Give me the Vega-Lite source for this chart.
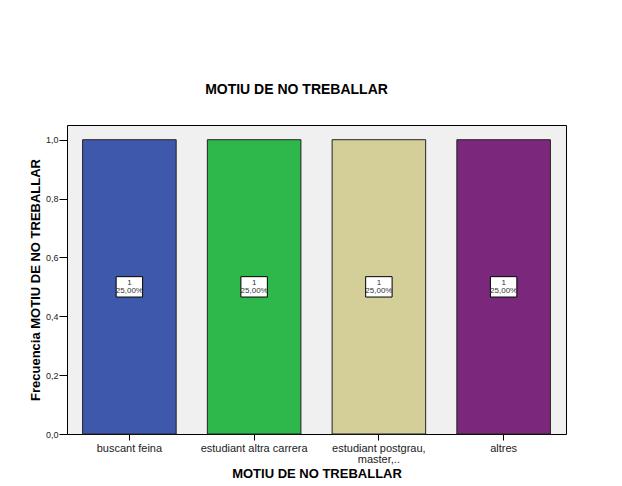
{
  "$schema": "https://vega.github.io/schema/vega-lite/v6.json",
  "width": 499,
  "height": 309,
  "autosize": {"type": "none"},
  "padding": {"left": 67, "top": 125, "right": 56, "bottom": 52},
  "background": "white",
  "title": {
    "text": "MOTIU DE NO TREBALLAR",
    "font": "Liberation Sans",
    "fontSize": 14,
    "fontWeight": "bold",
    "color": "black",
    "anchor": "middle",
    "frame": "group",
    "offset": 28,
    "dx": -20
  },
  "config": {
    "view": {"fill": "#f0f0f0", "stroke": "black", "strokeWidth": 1},
    "axis": {
      "labelFont": "Liberation Sans",
      "titleFont": "Liberation Sans",
      "labelColor": "#222",
      "titleColor": "black",
      "tickColor": "black",
      "grid": false,
      "domain": false
    }
  },
  "data": {
    "values": [
      {"motiu": "buscant feina", "frecuencia": 1, "porcentaje": "25,00%"},
      {"motiu": "estudiant altra carrera", "frecuencia": 1, "porcentaje": "25,00%"},
      {"motiu": "estudiant postgrau, master,..", "frecuencia": 1, "porcentaje": "25,00%"},
      {"motiu": "altres", "frecuencia": 1, "porcentaje": "25,00%"}
    ]
  },
  "encoding": {
    "x": {
      "field": "motiu",
      "type": "nominal",
      "sort": null,
      "scale": {"paddingInner": 0.25, "paddingOuter": 0.125},
      "axis": {
        "title": "MOTIU DE NO TREBALLAR",
        "titleFontSize": 13,
        "titleFontWeight": "bold",
        "titlePadding": 3,
        "labelAngle": 0,
        "labelFontSize": 11,
        "labelPadding": 2,
        "labelLineHeight": 11,
        "tickSize": 6,
        "labelExpr": "datum.label == 'estudiant postgrau, master,..' ? ['estudiant postgrau,', 'master,..'] : datum.label"
      }
    }
  },
  "layer": [
    {
      "mark": {"type": "bar", "stroke": "#222", "strokeWidth": 1},
      "encoding": {
        "y": {
          "field": "frecuencia",
          "type": "quantitative",
          "scale": {"domain": [0, 1.05], "nice": false, "zero": true},
          "axis": {
            "title": "Frecuencia MOTIU DE NO TREBALLAR",
            "titleFontSize": 13,
            "titleFontWeight": "bold",
            "titlePadding": 3,
            "values": [0, 0.2, 0.4, 0.6, 0.8, 1.0],
            "labelExpr": "replace(format(datum.value, '.1f'), '.', ',')",
            "labelFontSize": 9,
            "labelPadding": 1,
            "tickSize": 8
          }
        },
        "color": {
          "field": "motiu",
          "type": "nominal",
          "legend": null,
          "scale": {
            "domain": ["buscant feina", "estudiant altra carrera", "estudiant postgrau, master,..", "altres"],
            "range": ["#3e58ab", "#2eb84b", "#d4cf98", "#7b287c"]
          }
        }
      }
    },
    {
      "mark": {
        "type": "point",
        "shape": "M-1,-0.77L1,-0.77L1,0.77L-1,0.77Z",
        "size": 700,
        "filled": true,
        "fill": "white",
        "opacity": 1,
        "stroke": "black",
        "strokeWidth": 1
      },
      "encoding": {"y": {"datum": 0.5, "type": "quantitative"}}
    },
    {
      "mark": {"type": "text", "font": "Liberation Sans", "fontSize": 8, "color": "#333", "dy": -4},
      "encoding": {
        "y": {"datum": 0.5, "type": "quantitative"},
        "text": {"field": "frecuencia", "type": "quantitative"}
      }
    },
    {
      "mark": {"type": "text", "font": "Liberation Sans", "fontSize": 8, "color": "#333", "dy": 4},
      "encoding": {
        "y": {"datum": 0.5, "type": "quantitative"},
        "text": {"field": "porcentaje", "type": "nominal"}
      }
    }
  ]
}
